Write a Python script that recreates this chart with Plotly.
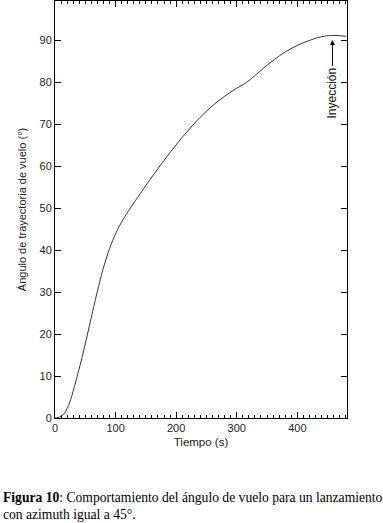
import plotly.graph_objects as go

# Data
tiempo = [0, 5, 10, 16, 24, 33, 46, 57, 68, 79, 90, 101, 112, 123, 131, 156, 184, 211, 239, 266, 294, 316, 333, 349, 377, 404, 432, 448, 462, 481]
angulo = [0, 0.1, 0.4, 1.2, 3.6, 8.0, 15.2, 22.1, 29.0, 35.3, 40.3, 44.2, 47.2, 49.7, 51.4, 56.6, 62.1, 67.0, 71.5, 75.1, 78.0, 79.9, 81.9, 83.9, 86.9, 89.0, 90.5, 91.0, 91.1, 90.9]

x_ticks = [0, 100, 200, 300, 400]
y_ticks = [0, 10, 20, 30, 40, 50, 60, 70, 80, 90]

W, H = 383, 523
L, R, T, B = 55, 36, 1, 105
pw, ph = W - L - R, H - T - B

def px_x(p):
    return (p - L) / pw

def px_y(p):
    return (H - B - p) / ph

fig = go.Figure()
fig.add_trace(go.Scatter(
    x=tiempo, y=angulo, mode="lines",
    line=dict(color="#333333", width=1, shape="spline", smoothing=0.8),
    showlegend=False, hoverinfo="skip",
))

axis_font = dict(family="Liberation Sans, Arial, sans-serif", size=11, color="#222222")

fig.update_xaxes(
    range=[0, 482], tickvals=x_ticks, ticks="inside", ticklen=6, tickwidth=1,
    tickcolor="black", showline=True, linecolor="black", linewidth=1,
    mirror="ticks", showgrid=False, zeroline=False, tickfont=axis_font,
    minor=dict(dtick=10, tick0=0, ticks="inside", ticklen=3, tickcolor="black", tickwidth=1, showgrid=False),
    title=dict(text="Tiempo (s)", font=dict(family="Liberation Sans, Arial, sans-serif", size=11.5, color="#222222"), standoff=4),
)
fig.update_yaxes(
    range=[0, 99.3], tickvals=y_ticks, ticks="inside", ticklen=6, tickwidth=1,
    tickcolor="black", showline=True, linecolor="black", linewidth=1,
    mirror="ticks", showgrid=False, zeroline=False, tickfont=axis_font,
    title=dict(text="Ángulo de trayectoria de vuelo (°)", font=axis_font, standoff=10),
)

# Inyección annotation with arrow
fig.add_annotation(
    x=458, y=90.0, xref="x", yref="y",
    text="Inyección", textangle=-90, showarrow=True,
    arrowhead=2, arrowsize=1, arrowwidth=1, arrowcolor="black",
    ax=0, ay=53, font=dict(family="Liberation Sans, Arial, sans-serif", size=12, color="#111111"),
)

cap_font = dict(family="Liberation Serif, Times New Roman, serif", size=13.6, color="black")
fig.add_annotation(
    x=px_x(1), y=px_y(497), xref="paper", yref="paper", xanchor="left", yanchor="middle",
    text="<b>Figura 10</b>: Comportamiento del ángulo de vuelo para un lanzamiento",
    showarrow=False, font=cap_font,
)
fig.add_annotation(
    x=px_x(1), y=px_y(514), xref="paper", yref="paper", xanchor="left", yanchor="middle",
    text="con azimuth igual a 45°.",
    showarrow=False, font=cap_font,
)

fig.update_layout(
    width=W, height=H,
    margin=dict(l=L, r=R, t=T, b=B, autoexpand=False),
    plot_bgcolor="white", paper_bgcolor="white",
)

fig.write_html(
    "out.html",
    config={"displayModeBar": False},
    post_script="document.body.style.margin='0';document.body.style.overflow='hidden';",
)
